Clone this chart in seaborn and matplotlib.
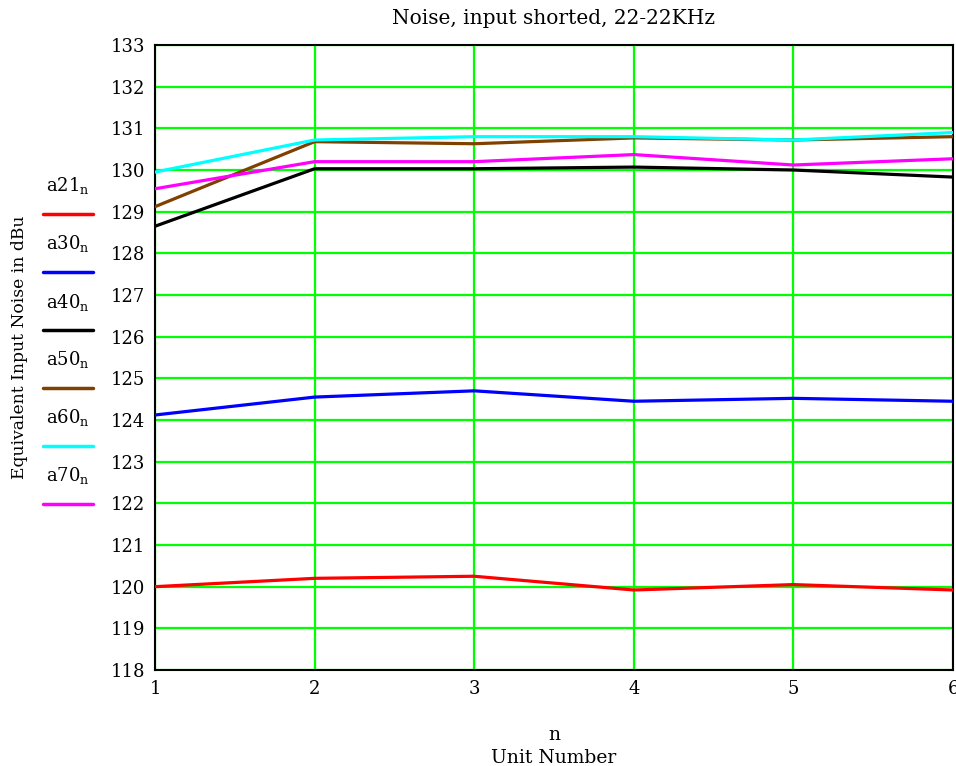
import pandas as pd
import matplotlib.pyplot as plt
import seaborn as sns
from matplotlib.lines import Line2D

units = [1, 2, 3, 4, 5, 6]
a21 = [120.0, 120.2, 120.25, 119.92, 120.05, 119.92]
a30 = [124.12, 124.55, 124.7, 124.45, 124.52, 124.45]
a40 = [128.65, 130.03, 130.03, 130.07, 130.0, 129.83]
a50 = [129.12, 130.68, 130.63, 130.77, 130.72, 130.8]
a60 = [129.95, 130.72, 130.8, 130.8, 130.72, 130.9]
a70 = [129.55, 130.2, 130.2, 130.37, 130.12, 130.27]

names = ["a21", "a30", "a40", "a50", "a60", "a70"]
colors = ["#ff0000", "#0000ff", "#000000", "#804000", "#00ffff", "#ff00ff"]

df = pd.DataFrame({"n": units * 6,
                   "value": a21 + a30 + a40 + a50 + a60 + a70,
                   "series": [s for s in names for _ in units]})

sns.set_style("white")
plt.rcParams["font.family"] = ["DejaVu Serif"]
plt.rcParams["mathtext.fontset"] = "dejavuserif"
plt.rcParams["text.color"] = "black"
plt.rcParams["xtick.color"] = "black"
plt.rcParams["ytick.color"] = "black"
plt.rcParams["axes.labelcolor"] = "black"

fig = plt.figure(figsize=(9.56, 7.66), dpi=100)
ax = fig.add_axes([155 / 956, 1 - 670 / 766, 798 / 956, 625 / 766])

sns.lineplot(data=df, x="n", y="value", hue="series", palette=colors,
             linewidth=2.3, legend=False, ax=ax, zorder=3)

ax.set_xlim(1, 6)
ax.set_ylim(118, 133)
ax.set_xticks(range(1, 7))
ax.set_yticks(range(118, 134))
ax.grid(True, color="#00ff00", linewidth=1.6)
ax.tick_params(length=0, labelsize=13, pad=7)
for sp in ax.spines.values():
    sp.set_color("black")
    sp.set_linewidth(1.5)
ax.set_xlabel("n\nUnit Number", fontsize=13.5, labelpad=20, linespacing=1.4)
ax.set_ylabel("")
ax.set_title("Noise, input shorted, 22-22KHz", fontsize=14.5, pad=15)

fig.text(20 / 956, 1 - 347 / 766, "Equivalent Input Noise in dBu", rotation=90,
         ha="center", va="center", fontsize=12.3)

# left-hand legend: label above a short line
for i, (nm, c) in enumerate(zip(names, colors)):
    ty = 186 + i * 58
    ly = 214 + i * 58
    fig.text(68 / 956, 1 - ty / 766, r"$\mathrm{%s}_{\mathrm{n}}$" % nm,
             ha="center", va="center", fontsize=13)
    fig.add_artist(Line2D([43 / 956, 93 / 956], [1 - ly / 766, 1 - ly / 766],
                          color=c, linewidth=2.5, transform=fig.transFigure))

fig.savefig("out.png", dpi=100)
